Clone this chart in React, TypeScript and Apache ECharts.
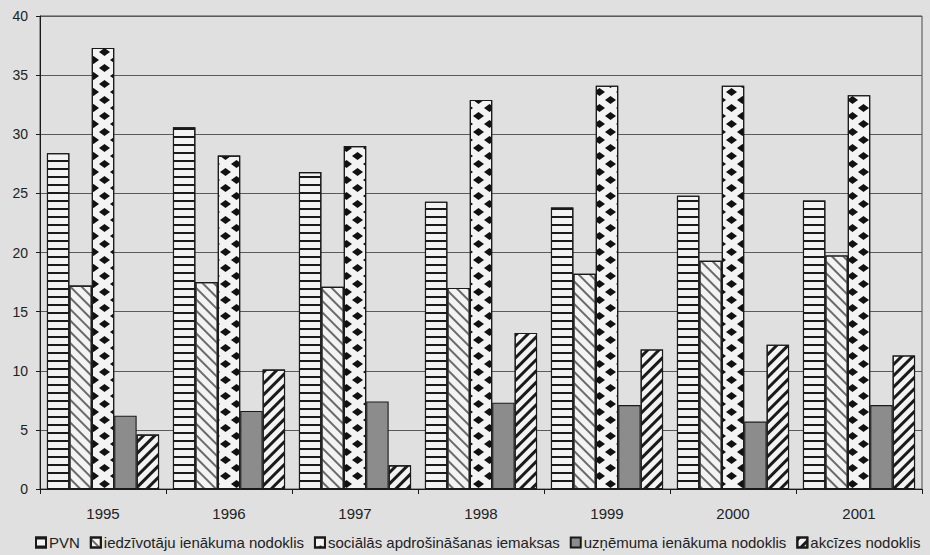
import React, { useEffect, useRef } from 'react';
import * as echarts from 'echarts';

const years = ['1995', '1996', '1997', '1998', '1999', '2000', '2001'];
const pvn = [28.4, 30.6, 26.8, 24.3, 23.8, 24.8, 24.4];
const iedzivotaju = [17.2, 17.5, 17.1, 17.0, 18.2, 19.3, 19.75];
const socialas = [37.3, 28.2, 29.0, 32.9, 34.1, 34.1, 33.3];
const uznemuma = [6.2, 6.6, 7.4, 7.3, 7.1, 5.7, 7.1];
const akcizes = [4.6, 10.1, 2.0, 13.2, 11.8, 12.2, 11.3];
const seriesNames = [
  'PVN',
  'iedzīvotāju ienākuma nodoklis',
  'sociālās apdrošināšanas iemaksas',
  'uzņēmuma ienākuma nodoklis',
  'akcīzes nodoklis',
];
const yMin = 0;
const yMax = 40;
const yStep = 5;

const FONT = '"Liberation Sans", Arial, Helvetica, sans-serif';
const PAPER = '#e0e0e0';
const WHITE = '#f3f3f3';
const INK = '#1a1a1a';

export default function App() {
  const ref = useRef<HTMLDivElement>(null);

  useEffect(() => {
    document.body.style.margin = '0';
    document.body.style.background = PAPER;
    if (!ref.current) return;
    const chart = echarts.init(ref.current, null, { renderer: 'svg' });

    const baseItem = { borderColor: INK, borderWidth: 1.1 };
    const decals: any[] = [
      { symbol: 'rect', symbolSize: 1, color: INK, dashArrayX: [1, 0], dashArrayY: [1.6, 5.4], rotation: 0 },
      { symbol: 'rect', symbolSize: 1, color: '#6a6a6a', dashArrayX: [1, 0], dashArrayY: [2, 6], rotation: Math.PI / 4 },
      { symbol: 'diamond', symbolSize: 1, symbolKeepAspect: false, color: '#111', dashArrayX: [[11, 11], [0, 11, 11, 0]], dashArrayY: [7.5, 0], rotation: 0 },
      null,
      { symbol: 'rect', symbolSize: 1, color: INK, dashArrayX: [1, 0], dashArrayY: [2.8, 4.6], rotation: -Math.PI / 4 },
    ];
    const fills = [WHITE, WHITE, WHITE, '#8c8c8c', WHITE];
    const datasets = [pvn, iedzivotaju, socialas, uznemuma, akcizes];

    const series = seriesNames.map((name, i) => ({
      name,
      type: 'bar',
      data: datasets[i],
      barGap: '0%',
      barCategoryGap: '11%',
      itemStyle: decals[i]
        ? { ...baseItem, color: fills[i], decal: decals[i] }
        : { ...baseItem, color: fills[i] },
    }));

    chart.setOption({
      animation: false,
      backgroundColor: PAPER,
      textStyle: { fontFamily: FONT },
      grid: {
        left: 40,
        right: 8,
        top: 16,
        bottom: 66,
        show: true,
        borderColor: '#4a4a4a',
        borderWidth: 1,
        backgroundColor: 'transparent',
      },
      legend: {
        data: seriesNames,
        left: 30,
        top: 530,
        icon: 'rect',
        itemWidth: 10,
        itemHeight: 10,
        itemGap: 10,
        textStyle: { fontSize: 15, color: '#222', fontFamily: FONT, padding: [0, 0, 0, -2] },
      },
      xAxis: {
        type: 'category',
        data: years,
        axisLine: { show: true, lineStyle: { color: INK, width: 1 } },
        axisTick: { show: true, length: 5, lineStyle: { color: INK } },
        axisLabel: { fontSize: 15, color: '#222', margin: 17, fontFamily: FONT },
        splitLine: { show: false },
      },
      yAxis: {
        type: 'value',
        min: yMin,
        max: yMax,
        interval: yStep,
        axisLine: { show: true, lineStyle: { color: INK, width: 1 } },
        axisTick: { show: true, length: 4, lineStyle: { color: INK } },
        axisLabel: { fontSize: 14, color: '#222', margin: 12, fontFamily: FONT },
        splitLine: { show: true, lineStyle: { color: '#5a5a5a', width: 1 } },
      },
      series,
    });

    return () => {
      chart.dispose();
    };
  }, []);

  return <div ref={ref} style={{ width: 930, height: 555, background: PAPER }} />;
}
